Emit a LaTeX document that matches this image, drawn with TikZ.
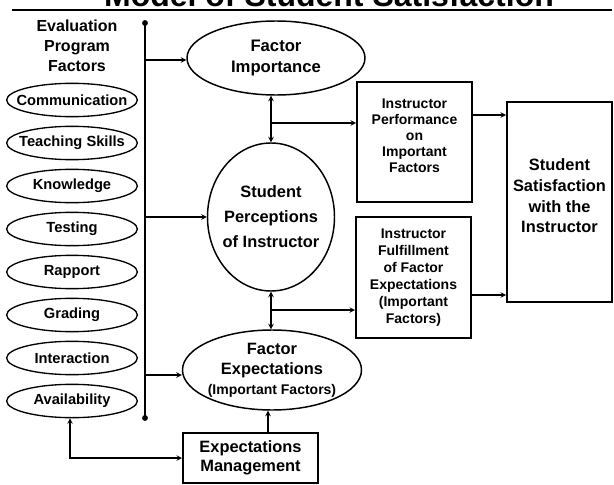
\documentclass[tikz,border=0pt]{standalone}
\usepackage{fontspec}
\setmainfont{Liberation Sans}
\usetikzlibrary{shapes.geometric}
\tikzset{
  factor/.style={draw,ellipse,line width=1pt,inner xsep=-9pt,inner ysep=-2pt,minimum width=98pt,minimum height=25pt,
    font=\fontsize{11pt}{12pt}\selectfont\bfseries},
  bigoval/.style={draw,ellipse,line width=1.1pt,inner sep=-4pt,align=center},
  box/.style={draw,rectangle,line width=1.5pt,inner sep=0pt,align=center},
  conn/.style={->,line width=0.8pt},
  bar/.style={line width=1.8pt}
}
\begin{document}
\begin{tikzpicture}[x=0.75pt,y=-0.75pt,>=stealth]
\useasboundingbox (0,0) rectangle (614,485);
\clip (0,0) rectangle (614,485);
% title, cut off at the top
\node[anchor=base,font=\fontsize{24pt}{28pt}\selectfont\bfseries] (ttl) at (329,7) {Model of Student Satisfaction};
\draw[line width=1.5pt] (12,10) -- (612,10);

% left column
\node[align=center,font=\fontsize{12pt}{15pt}\selectfont\bfseries] (evp) at (77,46) {Evaluation\\Program\\Factors};
\foreach \t [count=\i] in {Communication,Teaching Skills,Knowledge,Testing,Rapport,Grading,Interaction,Availability}
  \node[factor] (f\i) at (72,{57+43*\i}) {\t};
\coordinate (btop) at (145,23);
\coordinate (bbot) at (145,418);
\draw[bar] (btop) -- (bbot);
\fill (btop) circle (2.2pt);
\fill (bbot) circle (2.2pt);

% middle column
\node[bigoval,minimum width=133.5pt,minimum height=55.5pt,font=\fontsize{12.5pt}{15.75pt}\selectfont\bfseries] (fimp) at (276,58) {Factor\\Importance};
\node[bigoval,minimum width=95.25pt,minimum height=111pt,font=\fontsize{12.3pt}{18.75pt}\selectfont\bfseries] (perc) at (271,217) {Student\\Perceptions\\of Instructor};
\node[bigoval,minimum width=134.25pt,minimum height=60pt,font=\fontsize{12.3pt}{15pt}\selectfont\bfseries] (fexp) at (272,370) {Factor\\Expectations\\{\fontsize{10.5pt}{15pt}\selectfont (Important Factors)}};
\node[box,minimum width=101.25pt,minimum height=37.5pt,font=\fontsize{12.3pt}{14.25pt}\selectfont\bfseries] (mgmt) at (250.5,458) {Expectations\\Management};

% right column
\node[box,minimum width=86.25pt,minimum height=90pt,text depth=10pt,font=\fontsize{10.5pt}{12pt}\selectfont\bfseries] (perf) at (414.5,142) {Instructor\\Performance\\on\\Important\\Factors};
\node[box,minimum width=86.25pt,minimum height=90.75pt,font=\fontsize{10.5pt}{12.75pt}\selectfont\bfseries] (fulf) at (413.5,277.5) {Instructor\\Fulfillment\\of Factor\\Expectations\\(Important\\Factors)};
\node[box,minimum width=78.75pt,minimum height=150pt,text depth=9pt,font=\fontsize{12.3pt}{15.5pt}\selectfont\bfseries] (sat) at (559.5,202) {Student\\Satisfaction\\with the\\Instructor};

% connectors
\coordinate (b1) at (145,60);
\coordinate (b2) at (145,217);
\coordinate (b3) at (145,375);
\draw[conn] (b1) -- (b1 -| fimp.west);
\draw[conn] (b2) -- (perc.west);
\draw[conn] (b3) -- (b3 -| fexp.west);

\draw[<->,line width=0.8pt] (perc.north |- fimp.south) -- (perc.north);
\coordinate (j1) at (271,123);
\draw[conn] (j1) -- (j1 -| perf.west);
\draw[<->,line width=0.8pt] (perc.south) -- (perc.south |- fexp.north);
\coordinate (j2) at (271,310);
\draw[conn] (j2) -- (j2 -| fulf.west);

\coordinate (s1) at (472,115);
\coordinate (s2) at (471,295);
\draw[conn] (s1) -- (s1 -| sat.west);
\draw[conn] (s2) -- (s2 -| sat.west);

\draw[conn] (mgmt.north -| 268,0) -- (fexp.south -| 268,0);
\draw[<->,line width=0.8pt] (f8.south -| 70,0) |- (mgmt.west);
\end{tikzpicture}
\end{document}
